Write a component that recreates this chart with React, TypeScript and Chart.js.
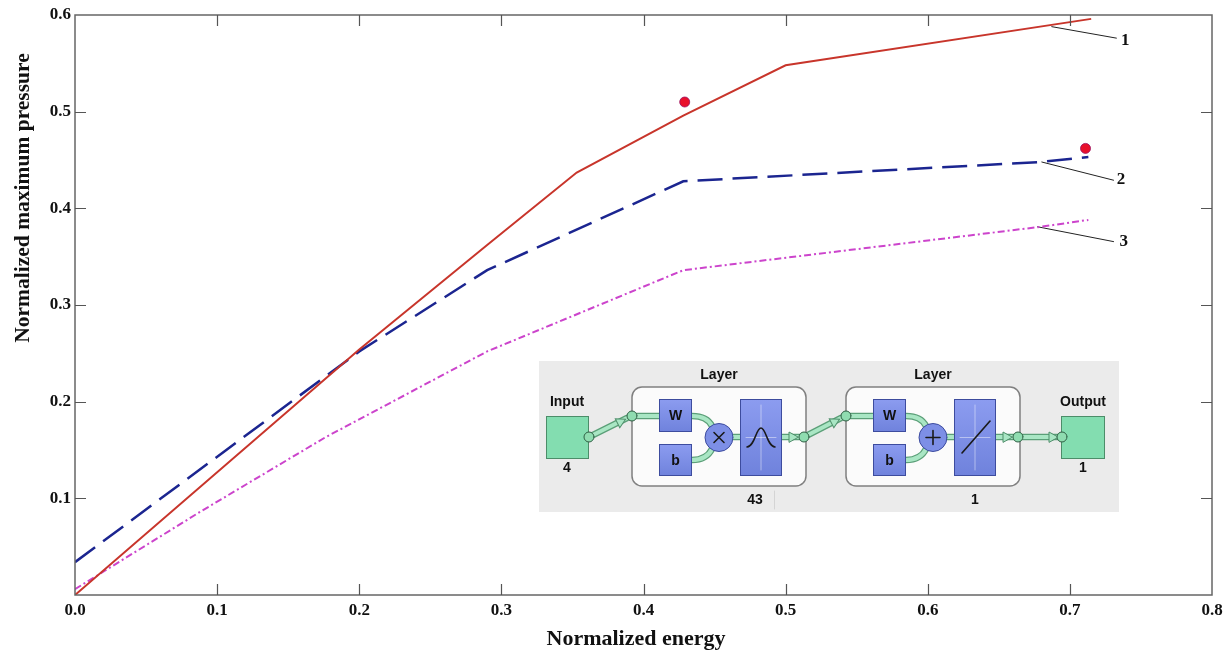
import React, { useEffect, useRef } from 'react';
import { Chart, registerables } from 'chart.js';
Chart.register(...registerables);

// ---- data ----
const xTickValues = [0, 0.1, 0.2, 0.3, 0.4, 0.5, 0.6, 0.7, 0.8];
const yTickValues = [0, 0.1, 0.2, 0.3, 0.4, 0.5, 0.6];
const innerXTicks = [0.1, 0.2, 0.3, 0.4, 0.5, 0.6, 0.7];
const innerYTicks = [0.1, 0.2, 0.3, 0.4, 0.5];

const curve1X = [0, 0.2, 0.29, 0.353, 0.428, 0.5, 0.715];
const curve1Y = [0, 0.254, 0.362, 0.437, 0.496, 0.548, 0.596];

const curve2X = [0, 0.2, 0.29, 0.428, 0.68, 0.713];
const curve2Y = [0.034, 0.252, 0.336, 0.428, 0.448, 0.453];

const curve3X = [0, 0.088, 0.176, 0.29, 0.428, 0.68, 0.713];
const curve3Y = [0.006, 0.086, 0.163, 0.252, 0.336, 0.381, 0.388];

const dotsX = [0.429, 0.711];
const dotsY = [0.510, 0.462];

const leader1X = [0.687, 0.733];
const leader1Y = [0.588, 0.576];
const leader2X = [0.680, 0.731];
const leader2Y = [0.448, 0.429];
const leader3X = [0.677, 0.731];
const leader3Y = [0.381, 0.3655];

const curveLabels = ['1', '2', '3'];
const labelX = [0.736, 0.733, 0.735];
const labelY = [0.573, 0.430, 0.366];

const xTitle = 'Normalized energy';
const yTitle = 'Normalized maximum pressure';

const insetTexts = {
  input: 'Input',
  output: 'Output',
  layer: 'Layer',
  inSize: '4',
  hidden: '43',
  outLayer: '1',
  outSize: '1',
};

const pts = (xs: number[], ys: number[]) => xs.map((x, i) => ({ x, y: ys[i] }));

const SERIF = '"Liberation Serif", "Times New Roman", serif';
const SANS = '"Liberation Sans", Arial, sans-serif';

function pipe(ctx: CanvasRenderingContext2D, x1: number, y1: number, x2: number, y2: number) {
  ctx.lineCap = 'round';
  ctx.strokeStyle = '#5b9f78';
  ctx.lineWidth = 6.5;
  ctx.beginPath(); ctx.moveTo(x1, y1); ctx.lineTo(x2, y2); ctx.stroke();
  ctx.strokeStyle = '#a9e6c4';
  ctx.lineWidth = 4;
  ctx.beginPath(); ctx.moveTo(x1, y1); ctx.lineTo(x2, y2); ctx.stroke();
}

function tri(ctx: CanvasRenderingContext2D, x: number, y: number, ang: number) {
  ctx.save();
  ctx.translate(x, y);
  ctx.rotate(ang);
  ctx.beginPath();
  ctx.moveTo(4, 0); ctx.lineTo(-5, -5); ctx.lineTo(-5, 5); ctx.closePath();
  ctx.fillStyle = '#a9e6c4'; ctx.fill();
  ctx.strokeStyle = '#4f8f6b'; ctx.lineWidth = 1; ctx.stroke();
  ctx.restore();
}

function node(ctx: CanvasRenderingContext2D, x: number, y: number) {
  ctx.beginPath(); ctx.arc(x, y, 5, 0, Math.PI * 2);
  ctx.fillStyle = '#8fdcb0'; ctx.fill();
  ctx.strokeStyle = '#2f5f44'; ctx.lineWidth = 1; ctx.stroke();
}

function blueBox(ctx: CanvasRenderingContext2D, x: number, y: number, w: number, h: number) {
  const g = ctx.createLinearGradient(x, y, x, y + h);
  g.addColorStop(0, '#8c9cf0');
  g.addColorStop(1, '#6f82dc');
  ctx.fillStyle = g;
  ctx.fillRect(x, y, w, h);
  ctx.strokeStyle = '#3d4c9e'; ctx.lineWidth = 1;
  ctx.strokeRect(x + 0.5, y + 0.5, w - 1, h - 1);
}

function greenBox(ctx: CanvasRenderingContext2D, x: number, y: number, w: number, h: number) {
  ctx.fillStyle = '#83ddb0';
  ctx.fillRect(x, y, w, h);
  ctx.strokeStyle = '#4c8d69'; ctx.lineWidth = 1;
  ctx.strokeRect(x + 0.5, y + 0.5, w - 1, h - 1);
}

function text(ctx: CanvasRenderingContext2D, s: string, x: number, y: number, font: string) {
  ctx.font = font;
  ctx.fillStyle = '#111';
  ctx.textAlign = 'center';
  ctx.textBaseline = 'middle';
  ctx.fillText(s, x, y);
}

function drawInset(ctx: CanvasRenderingContext2D) {
  ctx.save();
  ctx.fillStyle = '#ebebeb';
  ctx.fillRect(539, 361, 580, 151);

  const f = 'bold 14px ' + SANS;
  pipe(ctx, 589, 437, 627, 418); tri(ctx, 622, 421, Math.atan2(-19, 38));
  pipe(ctx, 804, 437, 841, 418); tri(ctx, 836, 421, Math.atan2(-19, 37));
  pipe(ctx, 1017, 437, 1062, 437); tri(ctx, 1054, 437, 0);

  for (const dx of [0, 214]) {
    ctx.beginPath();
    ctx.roundRect(632 + dx, 387, 174, 99, 10);
    ctx.fillStyle = '#fbfbfb'; ctx.fill();
    ctx.strokeStyle = '#808080'; ctx.lineWidth = 1.5; ctx.stroke();

    pipe(ctx, 632 + dx, 416, 660 + dx, 416);
    ctx.lineCap = 'round';
    for (const [w, c] of [[6.5, '#5b9f78'], [4, '#a9e6c4']] as [number, string][]) {
      ctx.strokeStyle = c; ctx.lineWidth = w;
      ctx.beginPath(); ctx.moveTo(692 + dx, 416);
      ctx.bezierCurveTo(704 + dx, 416, 709 + dx, 420, 712 + dx, 426); ctx.stroke();
      ctx.beginPath(); ctx.moveTo(692 + dx, 460);
      ctx.bezierCurveTo(704 + dx, 460, 709 + dx, 455, 712 + dx, 449); ctx.stroke();
    }
    pipe(ctx, 733 + dx, 437, 741 + dx, 437);
    pipe(ctx, 782 + dx, 437, 803 + dx, 437);
    tri(ctx, 794 + dx, 437, 0);

    blueBox(ctx, 659 + dx, 399, 33, 33);
    blueBox(ctx, 659 + dx, 444, 33, 32);
    text(ctx, 'W', 675.5 + dx, 416, f);
    text(ctx, 'b', 675.5 + dx, 461, f);

    ctx.beginPath(); ctx.arc(719 + dx, 437.5, 14, 0, Math.PI * 2);
    ctx.fillStyle = '#7d8fe6'; ctx.fill();
    ctx.strokeStyle = '#3d4c9e'; ctx.lineWidth = 1; ctx.stroke();
    ctx.strokeStyle = '#1a1a1a'; ctx.lineWidth = 1.6;
    ctx.beginPath();
    if (dx === 0) {
      ctx.moveTo(714, 432.5); ctx.lineTo(724, 442.5);
      ctx.moveTo(724, 432.5); ctx.lineTo(714, 442.5);
    } else {
      ctx.moveTo(926, 437.5); ctx.lineTo(940, 437.5);
      ctx.moveTo(933, 430.5); ctx.lineTo(933, 444.5);
    }
    ctx.stroke();

    blueBox(ctx, 740 + dx, 399, 42, 77);
    ctx.strokeStyle = 'rgba(255,255,255,0.45)'; ctx.lineWidth = 1;
    ctx.beginPath();
    ctx.moveTo(761 + dx, 405); ctx.lineTo(761 + dx, 470);
    ctx.moveTo(746 + dx, 437.5); ctx.lineTo(776 + dx, 437.5);
    ctx.stroke();
    ctx.strokeStyle = '#1a1a1a'; ctx.lineWidth = 1.6;
    ctx.beginPath();
    if (dx === 0) {
      ctx.moveTo(747, 447);
      ctx.bezierCurveTo(755, 446, 756, 428, 761, 428);
      ctx.bezierCurveTo(766, 428, 767, 446, 775, 447);
    } else {
      ctx.moveTo(962, 453); ctx.lineTo(990, 421);
    }
    ctx.stroke();

    node(ctx, 632 + dx, 416);
    node(ctx, 804 + dx, 437);
    text(ctx, insetTexts.layer, 719 + dx, 375, f);
  }

  greenBox(ctx, 546, 416, 43, 43);
  greenBox(ctx, 1061, 416, 44, 43);
  node(ctx, 589, 437);
  node(ctx, 1062, 437);

  text(ctx, insetTexts.input, 567, 402, f);
  text(ctx, insetTexts.output, 1083, 402, f);
  text(ctx, insetTexts.inSize, 567, 468, f);
  text(ctx, insetTexts.outSize, 1083, 468, f);
  text(ctx, insetTexts.hidden, 755, 500, f);
  text(ctx, insetTexts.outLayer, 975, 500, f);
  ctx.strokeStyle = '#d4d4d4'; ctx.lineWidth = 1;
  ctx.beginPath(); ctx.moveTo(774.5, 491); ctx.lineTo(774.5, 509); ctx.stroke();
  ctx.restore();
}

const decorPlugin = {
  id: 'decor',
  afterDatasetsDraw(chart: any) {
    const { ctx, chartArea: a, scales } = chart;
    const xs = scales.x, ys = scales.y;
    ctx.save();
    ctx.strokeStyle = '#666';
    ctx.lineWidth = 1.5;
    ctx.strokeRect(a.left, a.top, a.right - a.left, a.bottom - a.top);
    ctx.lineWidth = 1.2;
    ctx.strokeStyle = '#555';
    ctx.beginPath();
    const L = 11;
    innerXTicks.forEach((v) => {
      const px = Math.round(xs.getPixelForValue(v)) + 0.5;
      ctx.moveTo(px, a.bottom); ctx.lineTo(px, a.bottom - L);
      ctx.moveTo(px, a.top); ctx.lineTo(px, a.top + L);
    });
    innerYTicks.forEach((v) => {
      const py = Math.round(ys.getPixelForValue(v)) + 0.5;
      ctx.moveTo(a.left, py); ctx.lineTo(a.left + L, py);
      ctx.moveTo(a.right, py); ctx.lineTo(a.right - L, py);
    });
    ctx.stroke();

    ctx.font = 'bold 17px ' + SERIF;
    ctx.fillStyle = '#111';
    ctx.textAlign = 'left';
    ctx.textBaseline = 'middle';
    curveLabels.forEach((s, i) => {
      ctx.fillText(s, xs.getPixelForValue(labelX[i]), ys.getPixelForValue(labelY[i]));
    });

    drawInset(ctx);

    ctx.font = 'bold 22px ' + SERIF;
    ctx.textAlign = 'center';
    ctx.textBaseline = 'alphabetic';
    ctx.fillStyle = '#111';
    ctx.fillText(xTitle, 636, 645);
    ctx.save();
    ctx.translate(23, 198);
    ctx.rotate(-Math.PI / 2);
    ctx.font = 'bold 21.5px ' + SERIF;
    ctx.textBaseline = 'middle';
    ctx.fillText(yTitle, 0, 0);
    ctx.restore();
    ctx.restore();
  },
};

export default function App() {
  const ref = useRef<HTMLCanvasElement>(null);
  useEffect(() => {
    const tickFont = { family: SERIF, size: 17, weight: 'bold' as const };
    const lineBase = { showLine: true, pointRadius: 0, fill: false, tension: 0 };
    const chart = new Chart(ref.current!, {
      type: 'scatter',
      data: {
        datasets: [
          { ...lineBase, data: pts(curve1X, curve1Y), borderColor: '#c8352b', borderWidth: 2 },
          { ...lineBase, data: pts(curve2X, curve2Y), borderColor: '#1b2590', borderWidth: 2.5, borderDash: [25, 10] },
          { ...lineBase, data: pts(curve3X, curve3Y), borderColor: '#cc44cc', borderWidth: 2, borderDash: [7, 3, 2, 3] },
          { ...lineBase, data: pts(leader1X, leader1Y), borderColor: '#222', borderWidth: 1 },
          { ...lineBase, data: pts(leader2X, leader2Y), borderColor: '#222', borderWidth: 1 },
          { ...lineBase, data: pts(leader3X, leader3Y), borderColor: '#222', borderWidth: 1 },
          {
            data: pts(dotsX, dotsY), showLine: false, pointRadius: 5,
            pointBackgroundColor: '#e8102c', pointBorderColor: '#9a1060', pointBorderWidth: 0.8,
          },
        ],
      },
      options: {
        responsive: false,
        animation: false,
        devicePixelRatio: 1,
        layout: { padding: { top: 15, right: 17, left: 0, bottom: 0 } },
        plugins: { legend: { display: false }, tooltip: { enabled: false } },
        elements: { line: { borderCapStyle: 'butt' } },
        scales: {
          x: {
            type: 'linear', min: 0, max: 0.8,
            afterBuildTicks: (s: any) => { s.ticks = xTickValues.map((v) => ({ value: v })); },
            afterFit: (s: any) => { s.height = 55; },
            grid: { display: false, drawTicks: false },
            border: { display: false },
            ticks: { font: tickFont, color: '#111', padding: 5, maxRotation: 0, callback: (v: any) => Number(v).toFixed(1) },
          },
          y: {
            type: 'linear', min: 0, max: 0.6,
            afterBuildTicks: (s: any) => { s.ticks = yTickValues.map((v) => ({ value: v })); },
            afterFit: (s: any) => { s.width = 75; },
            grid: { display: false, drawTicks: false },
            border: { display: false },
            ticks: { font: tickFont, color: '#111', padding: 4, callback: (v: any) => (Number(v) === 0 ? '' : Number(v).toFixed(1)) },
          },
        },
      },
      plugins: [decorPlugin],
    } as any);
    return () => chart.destroy();
  }, []);
  return (
    <div style={{ position: 'fixed', left: 0, top: 0, width: 1229, height: 650, background: '#fff' }}>
      <canvas ref={ref} width={1229} height={650} style={{ display: 'block' }} />
    </div>
  );
}
